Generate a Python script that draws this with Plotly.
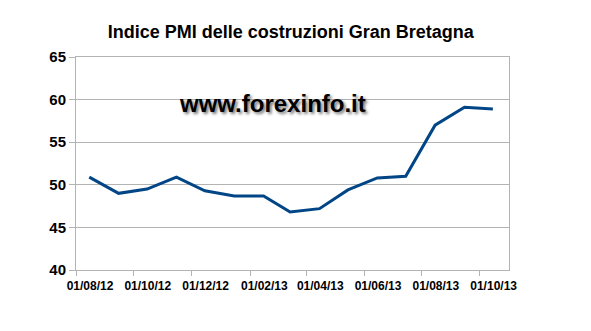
import plotly.graph_objects as go

dates = ["2012-08-15", "2012-09-15", "2012-10-15", "2012-11-15", "2012-12-15",
         "2013-01-15", "2013-02-15", "2013-03-15", "2013-04-15", "2013-05-15",
         "2013-06-15", "2013-07-15", "2013-08-15", "2013-09-15", "2013-10-15"]
pmi = [50.9, 49.0, 49.5, 50.9, 49.3, 48.7, 48.7, 46.8, 47.2, 49.4, 50.8, 51.0, 57.0, 59.1, 58.9]

title_text = "Indice PMI delle costruzioni Gran Bretagna"
watermark = "www.forexinfo.it"

fig = go.Figure()
fig.add_trace(go.Scatter(x=dates, y=pmi, mode="lines",
                         line=dict(color="#004586", width=3), hoverinfo="skip"))

fig.update_layout(
    width=591, height=331,
    margin=dict(l=76, r=82, t=57, b=61),
    paper_bgcolor="white", plot_bgcolor="white",
    showlegend=False,
    font=dict(family="Liberation Sans, Arial, sans-serif", color="black"),
    title=dict(text="<b>" + title_text + "</b>", x=0.492, xanchor="center",
               y=1 - 32 / 331, yanchor="middle",
               font=dict(size=18, color="black")),
    xaxis=dict(
        type="date", range=["2012-08-01", "2013-11-01"],
        tick0="2012-08-01", dtick="M2", tickformat="<b>%d/%m/%y</b>",
        showgrid=False, showline=True, linecolor="#b3b3b3", linewidth=1, mirror=True,
        ticks="outside", ticklen=5, tickcolor="#b3b3b3", tickwidth=1,
        ticklabelshift=14,
        tickfont=dict(size=12, color="black"), zeroline=False,
    ),
    yaxis=dict(
        range=[40, 65], dtick=5, tick0=40,
        showgrid=True, gridcolor="#b3b3b3", gridwidth=1,
        showline=True, linecolor="#b3b3b3", linewidth=1, mirror=True,
        ticks="outside", ticklen=6, tickcolor="#b3b3b3", tickwidth=1,
        tickprefix="<b>", ticksuffix="</b>",
        tickfont=dict(size=15, color="black"), zeroline=False,
    ),
)

fig.add_annotation(
    text="<b>" + watermark + "</b>", xref="paper", yref="paper",
    x=(272 - 76) / (509 - 76), y=(270 - 103) / (270 - 57),
    xanchor="center", yanchor="middle", showarrow=False,
    font=dict(size=24, color="black", family="Liberation Sans, Arial, sans-serif",
              shadow="2px 2px 3px #777777"),
)

fig.write_html("out.html")
